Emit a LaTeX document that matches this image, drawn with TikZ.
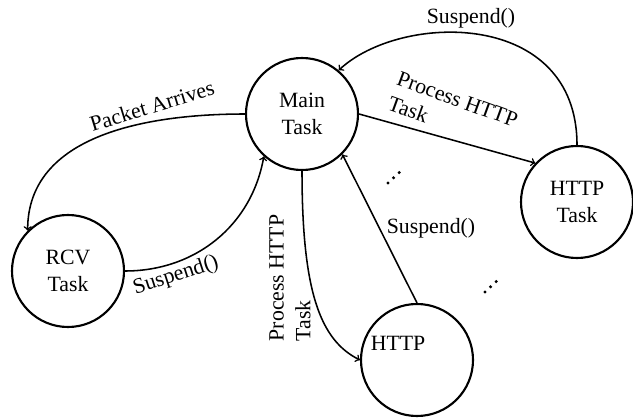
\documentclass[tikz,border=0pt]{standalone}
\usepackage{fontspec}
\setmainfont{Liberation Serif}
\usepackage{tikz}
\usetikzlibrary{arrows}
\usetikzlibrary{positioning}
\usetikzlibrary{calc}

\tikzset{
    task/.style = {circle, draw, line width=1.5pt, minimum size=2.8cm,
                   inner sep=0pt, align=center},
    flow/.style = {->, line width=1.1pt},
    lbl/.style  = {inner sep=1pt, align=left}
}

\begin{document}
\begin{tikzpicture}[font=\fontsize{15.5}{19}\selectfont]
    \useasboundingbox (0,0) rectangle (15.825,10.475);
    % the four tasks
    \node[task] (main)  at (7.55,7.625)  {Main\\Task};
    \node[task] (rcv)   at (1.7,3.7)     {RCV\\Task};
    \node[task] (http1) at (14.425,5.425) {HTTP\\Task};
    \node[task, label={[xshift=-0.475cm, yshift=0.425cm]center:HTTP}] (http2) at (10.425,1.475) {};
    % transitions
    \draw[flow] (main.west) to[out=180, in=90] (rcv.135);
    \draw[flow] (rcv.east) to[out=0, in=-100] (main.228);
    \draw[flow] (main.south) .. controls +(0,-3) and +(-1,0.5) .. (http2.west);
    \draw[flow] (http2.north) -- (main.-45);
    \draw[flow] (main.east) -- (http1.137);
    \draw[flow] (http1.north) .. controls +(0,3.4) and +(1.55,1.45) .. (main.50);
    % labels
    \node[lbl, rotate=17] (pa) at (3.8,7.825) {Packet Arrives};
    \node[lbl, rotate=18] (s1) at (4.4,3.575) {Suspend()};
    \node[lbl, rotate=90] (p2) at (7.25,3.525) {Process HTTP\\Task};
    \node[lbl] (s2) at (10.775,4.775) {Suspend()};
    \node[lbl, rotate=-20] (p1) at (11.325,7.675) {Process HTTP\\Task};
    \node[lbl] (s3) at (11.775,10.025) {Suspend()};
    % more tasks
    \foreach \x/\y in {9.7/5.9, 12.125/3.175}
        \foreach \i in {0,1,2}
            \fill (\x+\i*0.14,\y+\i*0.13) circle (1.2pt);
\end{tikzpicture}
\end{document}
